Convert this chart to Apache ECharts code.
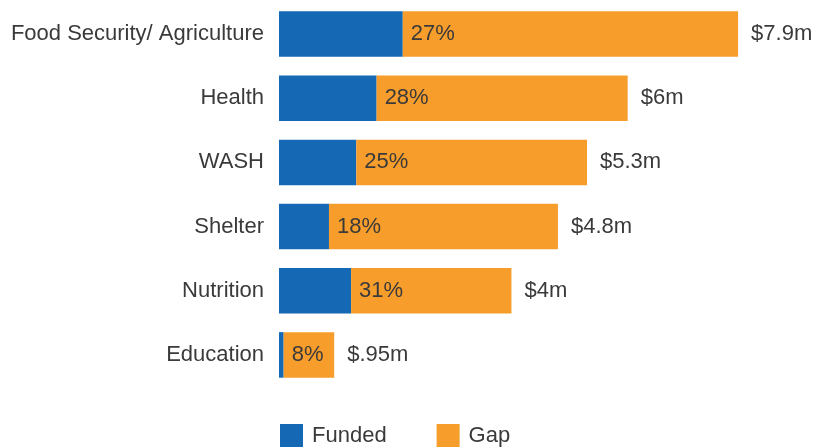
<!DOCTYPE html>
<html><head><meta charset="utf-8">
<script src="https://cdn.jsdelivr.net/npm/echarts@6/dist/echarts.min.js"></script>
<style>html,body{margin:0;padding:0;background:#fff}#c{width:814px;height:448px}</style>
</head><body><div id="c"></div>
<script>
var categories = ['Food Security/ Agriculture', 'Health', 'WASH', 'Shelter', 'Nutrition', 'Education'];
var funded = [2.13, 1.68, 1.33, 0.86, 1.24, 0.08];
var gap = [5.77, 4.32, 3.97, 3.94, 2.76, 0.87];
var totals = [7.9, 6, 5.3, 4.8, 4, 0.95];
var pctLabels = ['27%', '28%', '25%', '18%', '31%', '8%'];
var totalLabels = ['$7.9m', '$6m', '$5.3m', '$4.8m', '$4m', '$.95m'];

var FONT = 'Liberation Sans, Arial, sans-serif';
var TXT = '#3a3a3a';
var FS = 22;
var chart = echarts.init(document.getElementById('c'));
chart.setOption({
  animation: false,
  textStyle: {fontFamily: FONT},
  grid: {left: 279, top: 2, width: 523, height: 385, containLabel: false},
  legend: {
    data: ['Funded', 'Gap'], left: 275, top: 419, itemWidth: 23, itemHeight: 23, itemGap: 50,
    icon: 'rect',
    textStyle: {fontSize: FS, color: TXT, fontFamily: FONT, padding: [0, 0, 0, 4]}
  },
  xAxis: {type: 'value', min: 0, max: 9, show: false},
  yAxis: {
    type: 'category', data: categories, inverse: true,
    axisLine: {show: false}, axisTick: {show: false},
    axisLabel: {fontSize: FS, color: TXT, fontFamily: FONT, margin: 15}
  },
  series: [
    {name: 'Funded', type: 'bar', stack: 's', data: funded, barWidth: '71%',
      itemStyle: {color: '#1569b4'}},
    {name: 'Gap', type: 'bar', stack: 's', data: gap,
      itemStyle: {color: '#f79d2b'},
      label: {show: true, position: 'insideLeft', distance: 8, fontSize: FS, color: TXT, fontFamily: FONT,
        formatter: function (p) { return pctLabels[p.dataIndex]; }}},
    {name: 'Total', type: 'scatter', symbolSize: 0, silent: true,
      itemStyle: {opacity: 1},
      data: totals.map(function (v, i) { return [v, categories[i]]; }),
      label: {show: true, position: 'right', distance: 13, fontSize: FS, color: TXT, fontFamily: FONT,
        formatter: function (p) { return totalLabels[p.dataIndex]; }}}
  ]
});
</script></body></html>
